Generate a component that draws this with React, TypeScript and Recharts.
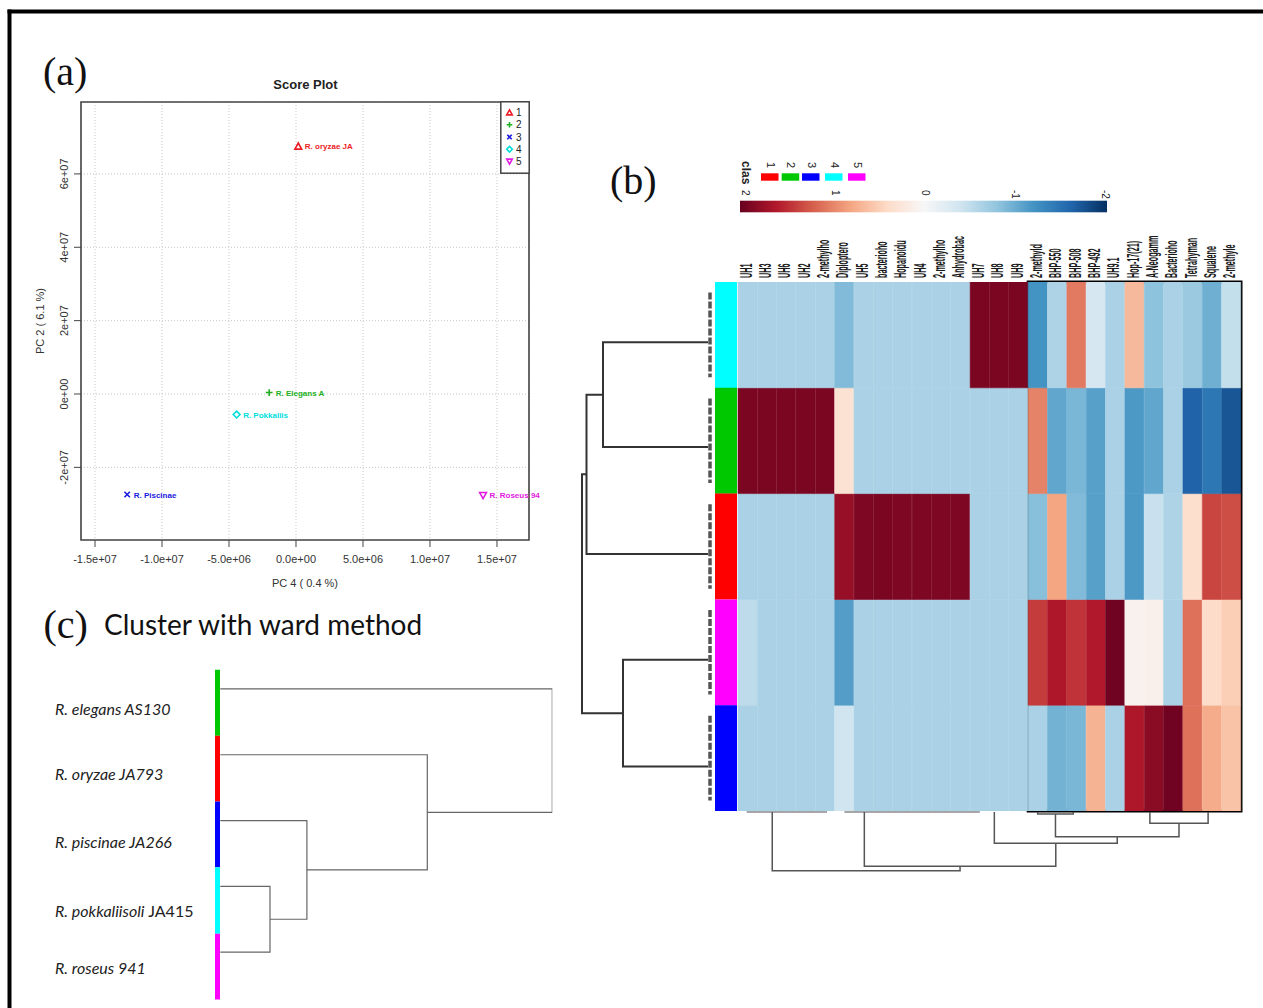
import React from "react";
import {
  ScatterChart,
  Scatter,
  XAxis,
  YAxis,
  CartesianGrid,
  ReferenceArea,
  Legend,
  BarChart,
  Bar,
  Cell,
} from "recharts";

const SANS = "'Liberation Sans', Arial, sans-serif";
const SERIF = "'Liberation Serif', 'Times New Roman', serif";

// ---------- (a) score plot ----------
const pcaLabels = ["R. oryzae JA", "R. Elegans A", "R. Piscinae", "R. Pokkaliis", "R. Roseus 94"];
const pcaGroups = ["1", "2", "3", "4", "5"];
const pcaPC4 = [0.17e6, -2.0e6, -12.6e6, -4.43e6, 13.96e6];
const pcaPC2 = [6.75e7, 0.04e7, -2.74e7, -0.56e7, -2.76e7];
const pcaColors = ["#ee1c24", "#22b022", "#1a1ae0", "#00dede", "#e01ae0"];
const pcaXTicks = [-1.5e7, -1.0e7, -5e6, 0, 5e6, 1.0e7, 1.5e7];
const pcaXTickLabels = ["-1.5e+07", "-1.0e+07", "-5.0e+06", "0.0e+00", "5.0e+06", "1.0e+07", "1.5e+07"];
const pcaYTicks = [-2e7, 0, 2e7, 4e7, 6e7];
const pcaYTickLabels = ["-2e+07", "0e+00", "2e+07", "4e+07", "6e+07"];
const pcaXDomain = [-1.6045e7, 1.739e7];
const pcaYDomain = [-3.98e7, 7.96e7];

// ---------- (b) heatmap ----------
const heatColLabels = [
  "UH1", "UH3", "UH6", "UH2", "2-methylho", "Diploptero", "UH5", "bacterioho", "Hopanoidu",
  "UH4", "2-methylho", "Anhydrobac", "UH7", "UH8", "UH9", "2-methyld", "BHP-550", "BHP-508",
  "BHP-492", "UH9.1", "Hop-17(21)", "A-Neogamm", "Bacterioho", "Tetrahyman", "Squalene", "2-methyle",
];
// rows top to bottom: class 4, 2, 1, 5, 3
const heatRowClasses = [4, 2, 1, 5, 3];
const heatClass4 = [-0.65, -0.65, -0.65, -0.65, -0.65, -0.88, -0.65, -0.65, -0.65, -0.65, -0.65, -0.65, 1.9, 1.9, 1.9,
  -1.2, -0.62, 1.05, -0.35, -0.65, 0.65, -0.82, -0.65, -0.75, -0.98, -0.48];
const heatClass2 = [1.9, 1.9, 1.9, 1.9, 1.9, 0.3, -0.65, -0.65, -0.65, -0.65, -0.65, -0.65, -0.65, -0.65, -0.65,
  1.0, -1.05, -0.92, -1.1, -0.65, -1.15, -1.05, -0.65, -1.62, -1.45, -1.72];
const heatClass1 = [-0.65, -0.65, -0.65, -0.65, -0.65, 1.75, 1.88, 1.9, 1.88, 1.88, 1.88, 1.88, -0.65, -0.65, -0.65,
  -0.85, 0.8, -0.88, -1.1, -0.65, -1.15, -0.45, -0.62, 0.35, 1.35, 1.3];
const heatClass5 = [-0.52, -0.65, -0.65, -0.65, -0.65, -1.12, -0.65, -0.65, -0.65, -0.65, -0.65, -0.65, -0.65, -0.65, -0.65,
  1.4, 1.62, 1.45, 1.6, 1.95, 0.08, 0.1, -0.65, 1.1, 0.38, 0.5];
const heatClass3 = [-0.65, -0.65, -0.65, -0.65, -0.65, -0.4, -0.65, -0.65, -0.65, -0.65, -0.65, -0.65, -0.65, -0.65, -0.65,
  -0.65, -0.95, -0.92, 0.7, -0.65, 1.62, 1.82, 1.95, 1.1, 0.75, 0.58];
const heatRowValues = [heatClass4, heatClass2, heatClass1, heatClass5, heatClass3];
const classColors = ["#ff0000", "#00c800", "#0000ff", "#00ffff", "#ff00ff"];
const keyTicks = [2, 1, 0, -1, -2];

// row dendrogram (rows in units of heatmap rows)
const rowLeafPos = [0.57, 1.56, 2.57, 3.57, 4.58];
const rowMerge = [[-1, -2], [1, -3], [-4, -5], [2, 3]];
const rowMergeHeight = [105, 121.5, 85, 126];

// column dendrogram (positions in column units)
const colLeafPos = [1.77, 6.53, 13.25, 15.49, 17.33, 21.29, 24.3];
const colMerge = [[-4, -5], [-6, -7], [1, 2], [-3, 3], [-2, 4], [-1, 5]];
const colMergeHeight = [3, 12.3, 25.7, 32.3, 55.3, 59.7];
const colLeafGroups = [[0.45, 4.6], [5.5, 12.5]];

// ---------- (c) ward cluster ----------
const wardSpecies = ["R. elegans", "R. oryzae", "R. piscinae", "R. pokkaliisoli", "R. roseus"];
const wardStrains = ["AS130", "JA793", "JA266", "JA415", "941"];
const wardClass = [2, 1, 3, 4, 5];
const wardLabelPos = [0.3, 1.29, 2.33, 3.38, 4.24];
const wardLeafPos = [0, 1, 2, 3, 4];
const wardBarBounds = [-0.29, 0.71, 1.71, 2.71, 3.72, 4.72];
const wardMerge = [[-4, -5], [-3, 1], [-2, 2], [-1, 3]];
const wardMergeHeight = [49.7, 86.6, 207, 332];

const rdbuStops = ["#67001f", "#b2182b", "#d6604d", "#f4a582", "#fddbc7", "#f7f7f7",
  "#d1e5f0", "#92c5de", "#4393c3", "#2166ac", "#053061"];

function parseHex(h: string) {
  return [1, 3, 5].map((i) => parseInt(h.slice(i, i + 2), 16));
}

function heatColor(v: number) {
  const t = Math.max(0, Math.min(1, (2 - v) / 4)) * (rdbuStops.length - 1);
  const i = Math.min(rdbuStops.length - 2, Math.floor(t));
  const f = t - i;
  const a = parseHex(rdbuStops[i]);
  const b = parseHex(rdbuStops[i + 1]);
  const c = a.map((av, k) => Math.round(av + (b[k] - av) * f));
  return `rgb(${c[0]},${c[1]},${c[2]})`;
}

type DPoint = { p: number; h: number };

function dendroLinks(leafPos: number[], merges: number[][], heights: number[], leafH: number) {
  const nodePos: number[] = [];
  const at = (id: number): DPoint =>
    id < 0 ? { p: leafPos[-id - 1], h: leafH } : { p: nodePos[id - 1], h: heights[id - 1] };
  return merges.map(([a, b], k) => {
    const A = at(a);
    const B = at(b);
    nodePos[k] = (A.p + B.p) / 2;
    const h = heights[k];
    return [A, { p: A.p, h }, { p: B.p, h }, B];
  });
}

const noDot = () => <g />;

function Marker({ kind, cx, cy, color, s }: { kind: number; cx: number; cy: number; color: string; s: number }) {
  const common = { fill: "none", stroke: color, strokeWidth: 1.6 };
  if (kind === 0)
    return <polygon points={`${cx},${cy - s} ${cx + s},${cy + s * 0.8} ${cx - s},${cy + s * 0.8}`} {...common} />;
  if (kind === 1) return <path d={`M${cx - s},${cy}H${cx + s}M${cx},${cy - s}V${cy + s}`} {...common} />;
  if (kind === 2)
    return <path d={`M${cx - s * 0.8},${cy - s * 0.8}L${cx + s * 0.8},${cy + s * 0.8}M${cx + s * 0.8},${cy - s * 0.8}L${cx - s * 0.8},${cy + s * 0.8}`} {...common} />;
  if (kind === 3)
    return <polygon points={`${cx},${cy - s} ${cx + s},${cy} ${cx},${cy + s} ${cx - s},${cy}`} {...common} />;
  return <polygon points={`${cx},${cy + s} ${cx + s},${cy - s * 0.8} ${cx - s},${cy - s * 0.8}`} {...common} />;
}

function ScoreLegend() {
  return (
    <svg width={30} height={73} style={{ display: "block" }}>
      <rect x={0.8} y={0.8} width={28.4} height={71.4} fill="#fff" stroke="#444" strokeWidth={1.5} />
      {pcaGroups.map((g, i) => (
        <g key={g}>
          <Marker kind={i} cx={9.5} cy={11.6 + i * 12.2} color={pcaColors[i]} s={2.8} />
          <text x={16} y={15.2 + i * 12.2} fontSize={10} fill="#222" fontFamily={SANS}>
            {g}
          </text>
        </g>
      ))}
    </svg>
  );
}

function ScorePlot() {
  return (
    <ScatterChart width={560} height={600} margin={{ top: 102, right: 31, bottom: 0, left: 0 }}>
      <CartesianGrid stroke="#c8c8c8" strokeDasharray="1 2" />
      <XAxis
        type="number"
        dataKey="x"
        domain={pcaXDomain}
        ticks={pcaXTicks}
        interval={0}
        height={60}
        axisLine={false}
        tickSize={7}
        tickLine={{ stroke: "#444" }}
        tick={(p: any) => (
          <text x={p.x} y={563} textAnchor="middle" fontSize={11} fill="#333" fontFamily={SANS}>
            {pcaXTickLabels[pcaXTicks.indexOf(p.payload.value)]}
          </text>
        )}
      />
      <YAxis
        type="number"
        dataKey="y"
        domain={pcaYDomain}
        ticks={pcaYTicks}
        interval={0}
        width={81}
        axisLine={false}
        tickSize={7}
        tickLine={{ stroke: "#444" }}
        tick={(p: any) => (
          <text transform={`translate(68,${p.y}) rotate(-90)`} textAnchor="middle" fontSize={11} fill="#333" fontFamily={SANS}>
            {pcaYTickLabels[pcaYTicks.indexOf(p.payload.value)]}
          </text>
        )}
      />
      <ReferenceArea
        x1={pcaXDomain[0]}
        x2={pcaXDomain[1]}
        y1={pcaYDomain[0]}
        y2={pcaYDomain[1]}
        fill="none"
        stroke="#444"
        strokeWidth={1.6}
        ifOverflow="visible"
      />
      {pcaLabels.map((name, i) => (
        <Scatter
          key={name}
          data={[{ x: pcaPC4[i], y: pcaPC2[i], name }]}
          isAnimationActive={false}
          fill={pcaColors[i]}
          shape={(p: any) => (
            <g>
              <Marker kind={i} cx={p.cx} cy={p.cy} color={pcaColors[i]} s={3.4} />
              <text x={p.cx + 6.5} y={p.cy + 3} fontSize={8} fontWeight="bold" fill={pcaColors[i]} fontFamily={SANS}>
                {name}
              </text>
            </g>
          )}
        />
      ))}
      <Legend
        layout="vertical"
        align="center"
        verticalAlign="middle"
        content={() => <ScoreLegend />}
        wrapperStyle={{ left: 500, top: 101, width: 30, height: 73, margin: 0 }}
      />
    </ScatterChart>
  );
}

function HeatKey() {
  const keyX = (v: number) => 5 + (2 - v) * 90;
  return (
    <svg width={380} height={60} style={{ display: "block", overflow: "visible" }}>
      <defs>
        <linearGradient id="rdbuKey" x1="0" x2="1" y1="0" y2="0">
          {rdbuStops.map((c, i) => (
            <stop key={i} offset={i / (rdbuStops.length - 1)} stopColor={c} />
          ))}
        </linearGradient>
      </defs>
      <text transform="translate(2,3) rotate(90)" fontSize={12} fontWeight="bold" fill="#222" fontFamily={SANS}>
        clas
      </text>
      {classColors.map((c, i) => {
        const sx = [21, 41.7, 62, 85, 108][i];
        return (
          <g key={c}>
            <rect x={sx} y={15.3} width={17.5} height={7.4} fill={c} />
            <text transform={`translate(${sx + 5.5},4) rotate(90)`} fontSize={11} fill="#222" fontFamily={SANS}>
              {i + 1}
            </text>
          </g>
        );
      })}
      <rect x={0} y={42.7} width={367} height={11.6} fill="url(#rdbuKey)" />
      {keyTicks.map((v) => (
        <text key={v} transform={`translate(${keyX(v) - 3.5},32) rotate(90)`} fontSize={10} fill="#222" fontFamily={SANS}>
          {v}
        </text>
      ))}
    </svg>
  );
}

const heatData = heatColLabels.map((label, j) => {
  const row: Record<string, any> = { id: "c" + j, label };
  heatRowClasses.forEach((k) => (row["k" + k] = 1));
  return row;
});

function Heatmap() {
  const stackOrder = [...heatRowClasses.keys()].reverse();
  return (
    <BarChart
      width={533}
      height={740}
      data={heatData}
      margin={{ top: 0, right: 22, bottom: 79, left: 8 }}
      barCategoryGap={0}
      barGap={0}
    >
      <XAxis
        dataKey="id"
        orientation="top"
        height={132}
        interval={0}
        tickLine={false}
        axisLine={false}
        tick={(p: any) => (
          <text
            transform={`translate(${p.x + 4},128) rotate(-90) scale(0.45,1)`}
            fontSize={16}
            fontWeight="bold"
            fill="#1a1a1a"
            fontFamily={SANS}
          >
            {heatColLabels[p.index]}
          </text>
        )}
      />
      <YAxis type="number" domain={[0, 5]} hide allowDataOverflow />
      {stackOrder.map((r) => (
        <Bar key={r} dataKey={"k" + heatRowClasses[r]} stackId="h" isAnimationActive={false}>
          {heatRowValues[r].map((v, j) => (
            <Cell key={j} fill={heatColor(v)} stroke={heatColor(v)} strokeWidth={0.6} />
          ))}
        </Bar>
      ))}
      <ReferenceArea x1="c15" x2="c25" y1={0} y2={5} fill="none" stroke="#000" strokeWidth={3} ifOverflow="visible" />
      <Legend
        layout="vertical"
        align="center"
        verticalAlign="middle"
        content={() => <HeatKey />}
        wrapperStyle={{ left: 10, top: 8, width: 380, height: 60, margin: 0 }}
      />
    </BarChart>
  );
}

const rowAnnot = heatRowClasses.map((cls) => ({ cls, v: 1 }));

function RowAnnotation() {
  return (
    <BarChart layout="vertical" width={22} height={529} data={rowAnnot} margin={{ top: 0, right: 0, bottom: 0, left: 0 }} barCategoryGap={0}>
      <XAxis type="number" domain={[0, 1]} hide />
      <YAxis type="category" dataKey="cls" hide />
      <Bar dataKey="v" isAnimationActive={false}>
        {rowAnnot.map((r, i) => (
          <Cell key={i} fill={classColors[r.cls - 1]} />
        ))}
      </Bar>
    </BarChart>
  );
}

function RowDendrogram() {
  const links = dendroLinks(rowLeafPos, rowMerge, rowMergeHeight, 0);
  return (
    <ScatterChart width={142} height={529} margin={{ top: 0, right: 0, bottom: 0, left: 0 }}>
      <XAxis type="number" dataKey="x" domain={[-4, 138]} reversed hide allowDataOverflow />
      <YAxis type="number" dataKey="y" domain={[0, 5]} reversed hide allowDataOverflow />
      {links.map((pts, i) => (
        <Scatter
          key={"l" + i}
          data={pts.map((d) => ({ x: d.h, y: d.p }))}
          line={{ stroke: "#333", strokeWidth: 2 }}
          lineType="joint"
          fill="#333"
          shape={noDot}
          isAnimationActive={false}
        />
      ))}
      {heatRowClasses.map((k, i) => (
        <Scatter
          key={"d" + k}
          data={[{ x: -2, y: i + 0.1 }, { x: -2, y: i + 0.9 }]}
          line={{ stroke: "#555", strokeWidth: 3.5, strokeDasharray: "7 2" }}
          lineType="joint"
          fill="#555"
          shape={noDot}
          isAnimationActive={false}
        />
      ))}
    </ScatterChart>
  );
}

function ColDendrogram() {
  const links = dendroLinks(colLeafPos, colMerge, colMergeHeight, 1);
  return (
    <ScatterChart width={503} height={70} margin={{ top: 0, right: 0, bottom: 0, left: 0 }}>
      <XAxis type="number" dataKey="x" domain={[0, 26]} hide allowDataOverflow />
      <YAxis type="number" dataKey="y" domain={[0, 70]} reversed hide allowDataOverflow />
      {colLeafGroups.map((g, i) => (
        <Scatter
          key={"g" + i}
          data={[{ x: g[0], y: 1 }, { x: g[1], y: 1 }]}
          line={{ stroke: "#888", strokeWidth: 1.5 }}
          lineType="joint"
          fill="#888"
          shape={noDot}
          isAnimationActive={false}
        />
      ))}
      {links.map((pts, i) => (
        <Scatter
          key={"l" + i}
          data={pts.map((d) => ({ x: d.p, y: d.h }))}
          line={{ stroke: "#555", strokeWidth: 1.5 }}
          lineType="joint"
          fill="#555"
          shape={noDot}
          isAnimationActive={false}
        />
      ))}
    </ScatterChart>
  );
}

function WardCluster() {
  const links = dendroLinks(wardLeafPos, wardMerge, wardMergeHeight, 0);
  return (
    <ScatterChart width={524} height={362} margin={{ top: 0, right: 1.7, bottom: 0, left: 0 }}>
      <XAxis type="number" dataKey="x" domain={[-6, 332]} hide allowDataOverflow />
      <YAxis
        type="number"
        dataKey="y"
        domain={[-0.5, 5]}
        reversed
        allowDataOverflow
        width={184.3}
        ticks={wardLabelPos}
        interval={0}
        axisLine={false}
        tickLine={false}
        tick={(p: any) => {
          const i = wardLabelPos.indexOf(p.payload.value);
          return (
            <text x={25} y={p.y + 6} fontSize={16} fill="#222" fontFamily="Lato, 'Open Sans', sans-serif">
              <tspan fontStyle="italic">{wardSpecies[i]}</tspan>
              <tspan fontStyle={wardStrains[i] === "JA415" ? "normal" : "italic"}> {wardStrains[i]}</tspan>
            </text>
          );
        }}
      />
      {wardClass.map((k, i) => (
        <Scatter
          key={"b" + i}
          data={[{ x: -2.8, y: wardBarBounds[i] }, { x: -2.8, y: wardBarBounds[i + 1] }]}
          line={{ stroke: classColors[k - 1], strokeWidth: 5 }}
          lineType="joint"
          fill={classColors[k - 1]}
          shape={noDot}
          isAnimationActive={false}
        />
      ))}
      {links.map((pts, i) => (
        <Scatter
          key={"l" + i}
          data={pts.map((d) => ({ x: d.h, y: d.p }))}
          line={{ stroke: "#666", strokeWidth: 1.2 }}
          lineType="joint"
          fill="#666"
          shape={noDot}
          isAnimationActive={false}
        />
      ))}
    </ScatterChart>
  );
}

export default function App() {
  return (
    <div
      style={{
        position: "absolute",
        left: 0,
        top: 0,
        width: 1263,
        height: 1008,
        overflow: "hidden",
        background: "#fff",
        fontFamily: SANS,
      }}
    >
      <div style={{ position: "absolute", left: 0, top: 0 }}>
        <ScorePlot />
      </div>
      <div style={{ position: "absolute", left: 730, top: 150 }}>
        <Heatmap />
      </div>
      <div style={{ position: "absolute", left: 715, top: 282 }}>
        <RowAnnotation />
      </div>
      <div style={{ position: "absolute", left: 570, top: 282 }}>
        <RowDendrogram />
      </div>
      <div style={{ position: "absolute", left: 738, top: 811 }}>
        <ColDendrogram />
      </div>
      <div style={{ position: "absolute", left: 30, top: 656.4 }}>
        <WardCluster />
      </div>
      <svg width={1263} height={1008} style={{ position: "absolute", left: 0, top: 0, pointerEvents: "none" }}>
        <rect x={7.5} y={9.5} width={1260} height={4} fill="#000" />
        <rect x={7.5} y={9.5} width={4} height={1000} fill="#000" />
        <text x={43} y={84.5} fontFamily={SERIF} fontSize={40} fill="#111">
          (a)
        </text>
        <text x={610} y={194} fontFamily={SERIF} fontSize={40} fill="#111">
          (b)
        </text>
        <text x={43.5} y={638} fontFamily={SERIF} fontSize={40} fill="#111">
          (c)
        </text>
        <text x={104} y={635} fontFamily="Lato, 'Open Sans', sans-serif" fontSize={28} fill="#111">
          Cluster with ward method
        </text>
        <text x={305.5} y={89} textAnchor="middle" fontFamily={SANS} fontSize={13} fontWeight="bold" fill="#222">
          Score Plot
        </text>
        <text x={305} y={587} textAnchor="middle" fontFamily={SANS} fontSize={11} fill="#333">
          PC 4 ( 0.4 %)
        </text>
        <text transform="translate(44,321) rotate(-90)" textAnchor="middle" fontFamily={SANS} fontSize={11} fill="#333">
          PC 2 ( 6.1 %)
        </text>
      </svg>
    </div>
  );
}
